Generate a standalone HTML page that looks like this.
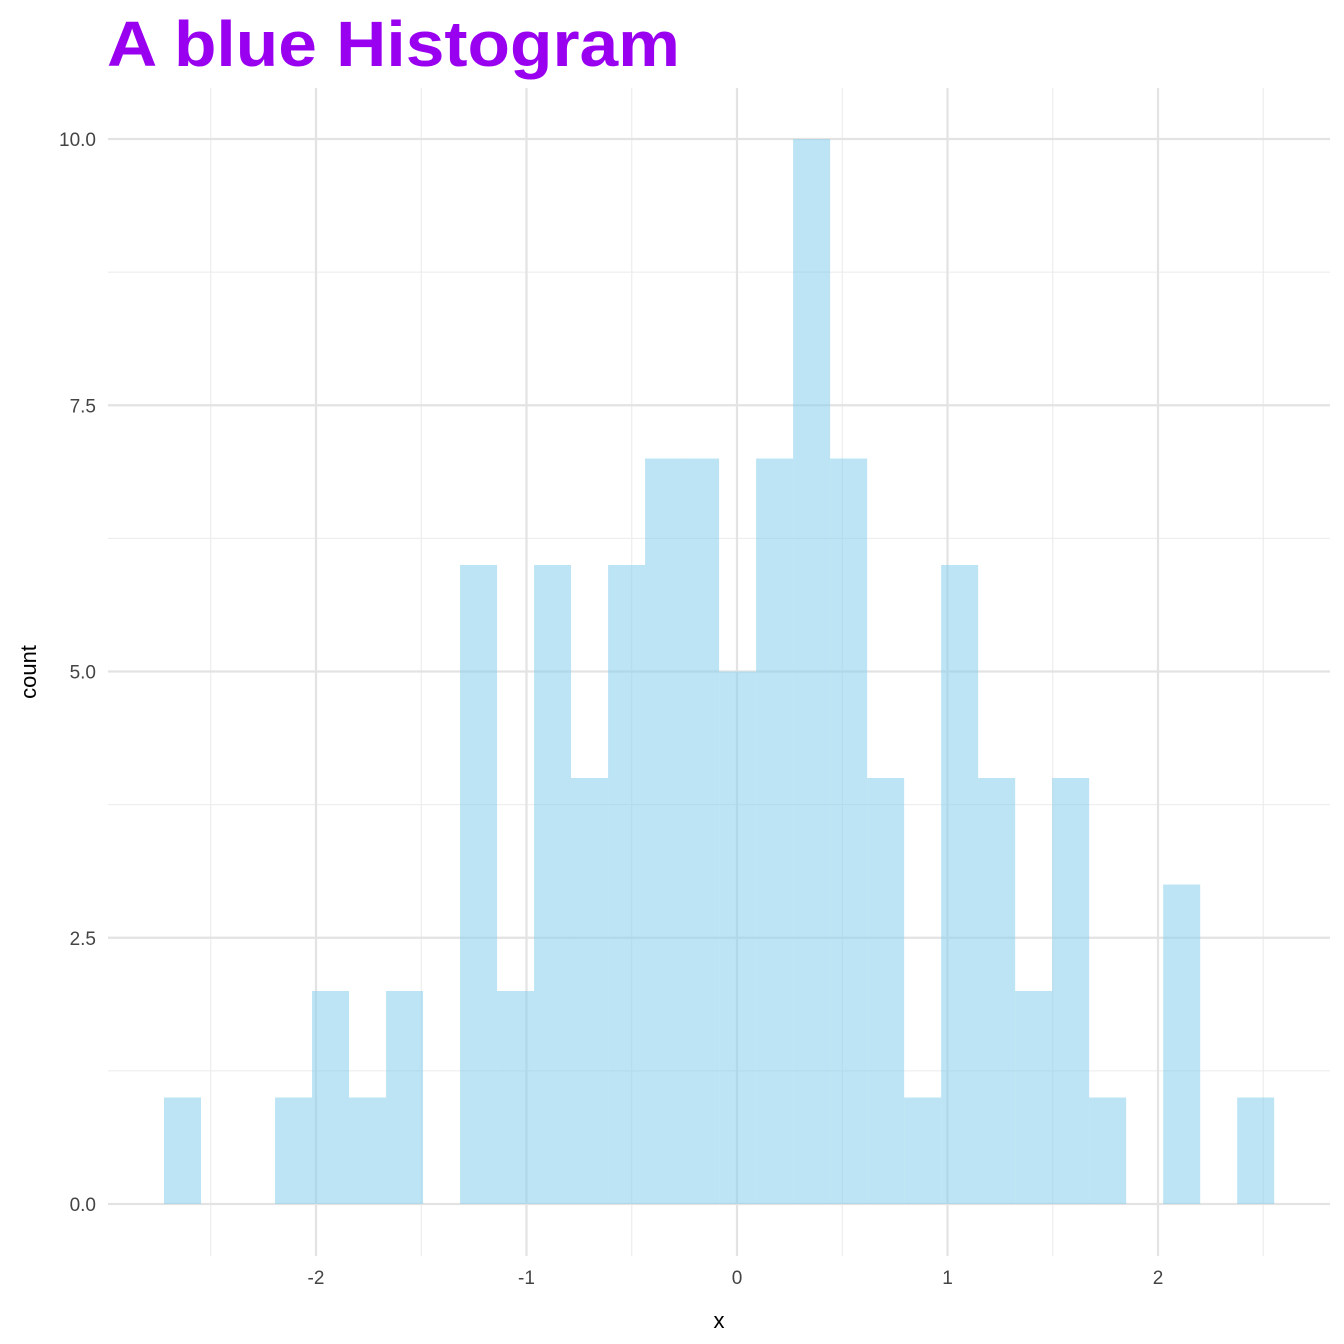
<!DOCTYPE html>
<html><head><meta charset="utf-8"><style>
html,body{margin:0;padding:0;background:#fff;}
svg{display:block;font-family:"Liberation Sans",Arial,sans-serif;}
</style></head><body>
<svg id="chart" width="1344" height="1344" viewBox="0 0 1344 1344">
<text x="107" y="66" font-size="64" font-weight="bold" fill="#9a00f0" textLength="573" lengthAdjust="spacingAndGlyphs">A blue Histogram</text>
<g id="grid"></g>
<g id="bars"></g>
<g id="ticks"></g>
<text x="719" y="1328" font-size="22" text-anchor="middle" fill="#000">x</text>
<text transform="translate(36,672) rotate(-90)" font-size="22" text-anchor="middle" fill="#000">count</text>
</svg>
<script>
const binStart = -2.722;
const binWidth = 0.1758;
const counts = [1,0,0,1,2,1,2,0,6,2,6,4,6,7,7,5,7,10,7,4,1,6,4,2,4,1,0,3,0,1];
const xTicks = [-2,-1,0,1,2];
const xTickLabels = ["-2","-1","0","1","2"];
const xMinor = [-2.5,-1.5,-0.5,0.5,1.5,2.5];
const yTicks = [0,2.5,5,7.5,10];
const yTickLabels = ["0.0","2.5","5.0","7.5","10.0"];
const yMinor = [1.25,3.75,6.25,8.75];

const NS="http://www.w3.org/2000/svg";
const X = v => 737 + v*210.5;
const Y = v => 1204 - v*106.5;
const L=108, R=1330, T=88, B=1256;
function mk(tag, attrs, parent){const e=document.createElementNS(NS,tag);for(const k in attrs)e.setAttribute(k,attrs[k]);parent.appendChild(e);return e;}
const grid=document.getElementById('grid'), bars=document.getElementById('bars'), ticks=document.getElementById('ticks');
xMinor.forEach(v=>{const e=mk('line',{x1:X(v),x2:X(v),y1:T,y2:B,stroke:'#ebebeb','stroke-width':1.1},grid);

});
yMinor.forEach(v=>{const e=mk('line',{x1:L,x2:R,y1:Y(v),y2:Y(v),stroke:'#ebebeb','stroke-width':1.1},grid);

});
xTicks.forEach((v,i)=>{const e=mk('line',{x1:X(v),x2:X(v),y1:T,y2:B,stroke:'#e3e3e3','stroke-width':2.2},grid);


const t=mk('text',{x:X(v),y:1284,'font-size':19,'text-anchor':'middle',fill:'#444'},ticks);t.textContent=xTickLabels[i];

});
yTicks.forEach((v,i)=>{const e=mk('line',{x1:L,x2:R,y1:Y(v),y2:Y(v),stroke:'#e3e3e3','stroke-width':2.2},grid);


const t=mk('text',{x:96,y:Y(v)+7,'font-size':19,'text-anchor':'end',fill:'#444'},ticks);t.textContent=yTickLabels[i];

});
counts.forEach((c,i)=>{if(c<=0)return;const x0=X(binStart+i*binWidth),x1=X(binStart+(i+1)*binWidth);
const r=mk('rect',{x:x0,y:Y(c),width:x1-x0,height:Y(0)-Y(c),fill:'#87ceeb','fill-opacity':0.56},bars);

});
</script>
</body></html>
